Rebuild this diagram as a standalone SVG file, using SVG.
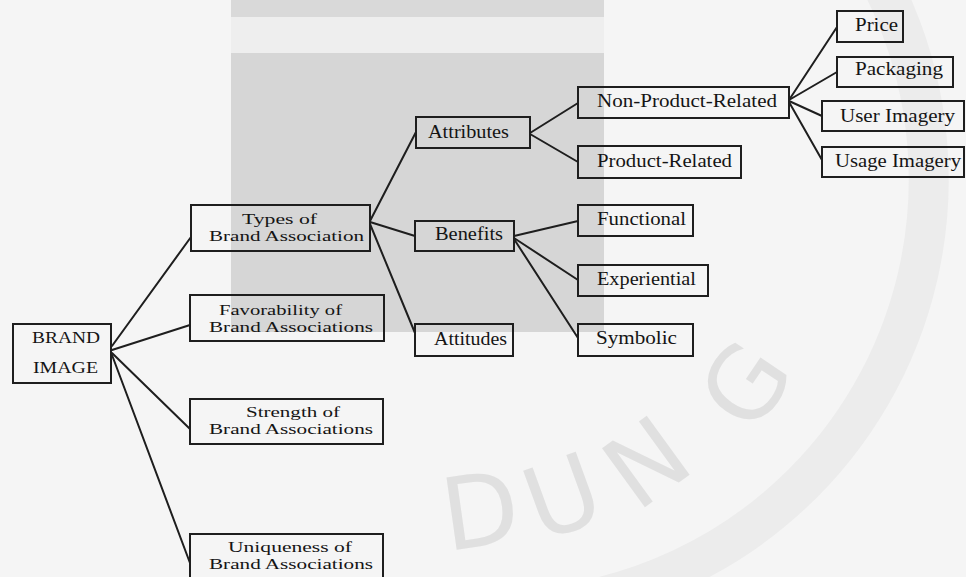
<svg xmlns="http://www.w3.org/2000/svg" width="966" height="577" viewBox="0 0 966 577">
<style>
.box{fill:none;stroke:#1e1e1e;stroke-width:2}
.lbl{font-family:"Liberation Serif","Times New Roman",serif;font-size:18px;fill:#141414}
.sm{font-size:17px}
.two{font-size:15px}
.con line{stroke:#1e1e1e;stroke-width:2;stroke-linecap:round}
.wm{font-family:"DejaVu Sans","Liberation Sans",sans-serif;font-size:100px;fill:#e0e0e0;text-anchor:middle}
</style>
<rect x="0" y="0" width="966" height="577" fill="#f5f5f5"/>
<g id="watermark">
<rect x="231" y="0" width="373" height="17" fill="#d9d9d9"/>
<rect x="231" y="17" width="373" height="36" fill="#eeeeee"/>
<rect x="231" y="53" width="373" height="279" fill="#d6d6d6"/>
<path d="M829,-96 A430,430 0 0 1 425,603" fill="none" stroke="#ececec" stroke-width="40"/>
<text class="wm" transform="translate(745,384) rotate(-56)" dy="0.36em">G</text>
<text class="wm" transform="translate(646,462) rotate(-36)" dy="0.36em">N</text>
<text class="wm" transform="translate(562,496) rotate(-20)" dy="0.36em">U</text>
<text class="wm" transform="translate(480,510) rotate(-8)" dy="0.36em">D</text>
</g>
<g id="connectors" class="con">
<line x1="112" y1="346" x2="191" y2="237"/>
<line x1="112" y1="350" x2="190" y2="325"/>
<line x1="112" y1="353" x2="190" y2="429"/>
<line x1="112" y1="355" x2="190" y2="563"/>
<line x1="370" y1="221" x2="416" y2="132"/>
<line x1="370" y1="222" x2="415" y2="236"/>
<line x1="370" y1="224" x2="415" y2="333"/>
<line x1="530" y1="133" x2="578" y2="103"/>
<line x1="530" y1="134" x2="578" y2="162"/>
<line x1="514" y1="236" x2="578" y2="221"/>
<line x1="514" y1="238" x2="578" y2="280"/>
<line x1="514" y1="239" x2="578" y2="338"/>
<line x1="789" y1="100" x2="837" y2="27"/>
<line x1="789" y1="100" x2="837" y2="72"/>
<line x1="789" y1="101" x2="822" y2="116"/>
<line x1="789" y1="102" x2="822" y2="160"/>
</g>
<g id="brand-image">
<rect class="box" x="13" y="324" width="98" height="59"/>
<text class="lbl sm" x="32" y="343" textLength="68" lengthAdjust="spacingAndGlyphs">BRAND</text>
<text class="lbl sm" x="33" y="373" textLength="65" lengthAdjust="spacingAndGlyphs">IMAGE</text>
</g>
<g id="types">
<rect class="box" x="191" y="205" width="179" height="46"/>
<text class="lbl two" x="242" y="223.5" textLength="75" lengthAdjust="spacingAndGlyphs">Types of</text>
<text class="lbl two" x="209" y="240.5" textLength="155" lengthAdjust="spacingAndGlyphs">Brand Association</text>
</g>
<g id="favorability">
<rect class="box" x="190" y="295" width="194" height="46"/>
<text class="lbl two" x="219" y="314.5" textLength="123" lengthAdjust="spacingAndGlyphs">Favorability of</text>
<text class="lbl two" x="209" y="331.5" textLength="164" lengthAdjust="spacingAndGlyphs">Brand Associations</text>
</g>
<g id="strength">
<rect class="box" x="190" y="399" width="193" height="45"/>
<text class="lbl two" x="246" y="417" textLength="94" lengthAdjust="spacingAndGlyphs">Strength of</text>
<text class="lbl two" x="209" y="434" textLength="164" lengthAdjust="spacingAndGlyphs">Brand Associations</text>
</g>
<g id="uniqueness">
<rect class="box" x="190" y="534" width="193" height="50"/>
<text class="lbl two" x="228" y="552" textLength="124" lengthAdjust="spacingAndGlyphs">Uniqueness of</text>
<text class="lbl two" x="209" y="569" textLength="164" lengthAdjust="spacingAndGlyphs">Brand Associations</text>
</g>
<g id="attributes">
<rect class="box" x="416" y="117" width="114" height="31"/>
<text class="lbl" x="428" y="138" textLength="81" lengthAdjust="spacingAndGlyphs">Attributes</text>
</g>
<g id="benefits">
<rect class="box" x="415" y="221" width="99" height="30"/>
<text class="lbl" x="435" y="240" textLength="68" lengthAdjust="spacingAndGlyphs">Benefits</text>
</g>
<g id="attitudes">
<rect class="box" x="415" y="324" width="98" height="32"/>
<text class="lbl" x="434" y="345" textLength="73" lengthAdjust="spacingAndGlyphs">Attitudes</text>
</g>
<g id="non-product-related">
<rect class="box" x="578" y="87" width="211" height="31"/>
<text class="lbl" x="597" y="107" textLength="180" lengthAdjust="spacingAndGlyphs">Non-Product-Related</text>
</g>
<g id="product-related">
<rect class="box" x="578" y="146" width="163" height="32"/>
<text class="lbl" x="597" y="167" textLength="135" lengthAdjust="spacingAndGlyphs">Product-Related</text>
</g>
<g id="functional">
<rect class="box" x="578" y="205" width="115" height="31"/>
<text class="lbl" x="597" y="225" textLength="89" lengthAdjust="spacingAndGlyphs">Functional</text>
</g>
<g id="experiential">
<rect class="box" x="578" y="265" width="130" height="31"/>
<text class="lbl" x="597" y="285" textLength="99" lengthAdjust="spacingAndGlyphs">Experiential</text>
</g>
<g id="symbolic">
<rect class="box" x="578" y="324" width="115" height="32"/>
<text class="lbl" x="596" y="344" textLength="81" lengthAdjust="spacingAndGlyphs">Symbolic</text>
</g>
<g id="price">
<rect class="box" x="837" y="11" width="66" height="31"/>
<text class="lbl" x="855" y="31" textLength="43" lengthAdjust="spacingAndGlyphs">Price</text>
</g>
<g id="packaging">
<rect class="box" x="837" y="57" width="116" height="30"/>
<text class="lbl" x="855" y="75" textLength="88" lengthAdjust="spacingAndGlyphs">Packaging</text>
</g>
<g id="user-imagery">
<rect class="box" x="822" y="101" width="142" height="30"/>
<text class="lbl" x="840" y="122" textLength="115" lengthAdjust="spacingAndGlyphs">User Imagery</text>
</g>
<g id="usage-imagery">
<rect class="box" x="822" y="147" width="142" height="30"/>
<text class="lbl" x="835" y="167" textLength="126" lengthAdjust="spacingAndGlyphs">Usage Imagery</text>
</g>
</svg>
